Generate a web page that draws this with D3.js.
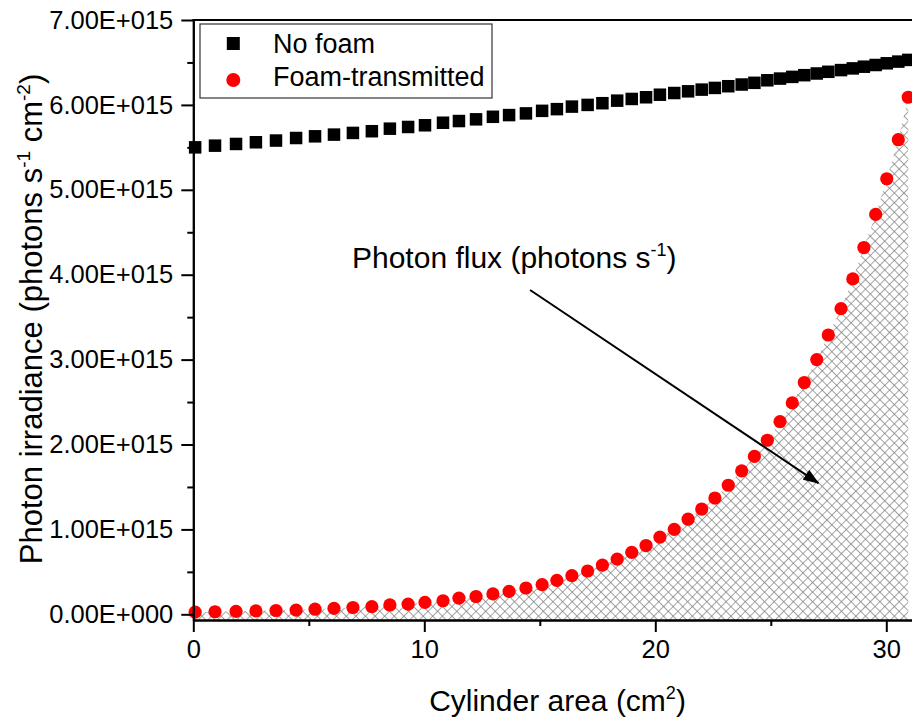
<!DOCTYPE html>
<html>
<head>
<meta charset="utf-8">
<script src="https://cdn.jsdelivr.net/npm/d3@7/dist/d3.min.js"></script>
<style>
  html, body { margin: 0; padding: 0; background: #fff; }
  svg { display: block; }
  text { font-family: "Liberation Sans", Arial, sans-serif; fill: #000; }
</style>
</head>
<body>
<div id="chart"></div>
<script>
// Cylinder area (cm^2) at each measurement position
const cylinderArea = [
  0.08, 0.94, 1.85, 2.71, 3.58, 4.45, 5.27, 6.09, 6.91, 7.73,
  8.51, 9.30, 10.03, 10.81, 11.50, 12.24, 12.97, 13.67, 14.40, 15.10,
  15.74, 16.39, 17.07, 17.71, 18.35, 18.98, 19.60, 20.20, 20.82, 21.42,
  22.01, 22.58, 23.16, 23.74, 24.29, 24.85, 25.40, 25.93, 26.45, 26.99,
  27.49, 28.04, 28.55, 29.03, 29.54, 30.02, 30.52, 30.95
];

// Photon irradiance without foam (photons s^-1 cm^-2)
const noFoam = [
  5.50e15, 5.52e15, 5.54e15, 5.56e15, 5.58e15, 5.61e15, 5.63e15, 5.65e15, 5.67e15, 5.69e15,
  5.72e15, 5.74e15, 5.76e15, 5.79e15, 5.81e15, 5.83e15, 5.86e15, 5.88e15, 5.90e15, 5.93e15,
  5.95e15, 5.98e15, 6.00e15, 6.02e15, 6.05e15, 6.07e15, 6.09e15, 6.12e15, 6.14e15, 6.16e15,
  6.18e15, 6.20e15, 6.22e15, 6.24e15, 6.26e15, 6.29e15, 6.31e15, 6.33e15, 6.35e15, 6.37e15,
  6.39e15, 6.41e15, 6.43e15, 6.45e15, 6.47e15, 6.49e15, 6.51e15, 6.53e15
];

// Photon irradiance transmitted through the foam (photons s^-1 cm^-2)
const foamTransmitted = [
  0.025e15, 0.030e15, 0.035e15, 0.040e15, 0.045e15, 0.050e15, 0.060e15, 0.070e15, 0.080e15, 0.090e15,
  0.11e15, 0.12e15, 0.14e15, 0.16e15, 0.19e15, 0.21e15, 0.24e15, 0.27e15, 0.31e15, 0.35e15,
  0.40e15, 0.455e15, 0.51e15, 0.58e15, 0.65e15, 0.73e15, 0.81e15, 0.91e15, 1.00e15, 1.12e15,
  1.24e15, 1.37e15, 1.52e15, 1.69e15, 1.86e15, 2.05e15, 2.27e15, 2.49e15, 2.73e15, 3.00e15,
  3.29e15, 3.60e15, 3.95e15, 4.32e15, 4.71e15, 5.13e15, 5.59e15, 6.09e15
];

const xTicks = [0, 10, 20, 30];
const xMinorTicks = [5, 15, 25];
const yTicks = [0, 1e15, 2e15, 3e15, 4e15, 5e15, 6e15, 7e15];
const yTickLabels = ["0.00E+000", "1.00E+015", "2.00E+015", "3.00E+015",
                     "4.00E+015", "5.00E+015", "6.00E+015", "7.00E+015"];
const yMinorTicks = [0.5e15, 1.5e15, 2.5e15, 3.5e15, 4.5e15, 5.5e15, 6.5e15];

const seriesNames = ["No foam", "Foam-transmitted"];

// Annotation: label anchor and arrow, in data coordinates
const annotationText = [6.87, 4.08e15];
const annotationArrow = [[14.58, 3.82e15], [27.06, 1.545e15]];

const W = 912, H = 722;
const plotLeft = 193.3, plotTop = 20, plotBottom = 620;
const pxPerUnit = 23.1;
const xMax = 32;

const x = d3.scaleLinear().domain([0, xMax]).range([plotLeft, plotLeft + pxPerUnit * xMax]);
const y = d3.scaleLinear().domain([-0.067e15, 7e15]).range([plotBottom, plotTop]);

const svg = d3.select("#chart").append("svg")
  .attr("width", W).attr("height", H)
  .attr("viewBox", `0 0 ${W} ${H}`);

const defs = svg.append("defs");

// Cross-hatch pattern for the integrated photon flux
const hs = 6.8;
defs.append("pattern")
  .attr("id", "crosshatch")
  .attr("patternUnits", "userSpaceOnUse")
  .attr("width", hs).attr("height", hs)
  .attr("patternTransform", "rotate(45)")
  .append("path")
  .attr("d", `M0,0 H${hs} M0,0 V${hs}`)
  .attr("stroke", "#808080")
  .attr("stroke-width", 1.4)
  .attr("fill", "none");

defs.append("marker")
  .attr("id", "arrowhead")
  .attr("markerUnits", "userSpaceOnUse")
  .attr("viewBox", "0 0 16 12")
  .attr("refX", 15).attr("refY", 6)
  .attr("markerWidth", 16).attr("markerHeight", 12)
  .attr("orient", "auto")
  .append("path")
  .attr("d", "M0,0 L16,6 L0,12 Z")
  .attr("fill", "#000");

const data = cylinderArea.map((a, i) => ({ a, nf: noFoam[i], ft: foamTransmitted[i] }));

// Hatched area under the transmitted irradiance curve
svg.append("path")
  .datum(data)
  .attr("fill", "url(#crosshatch)")
  .attr("d", d3.area()
    .x(d => x(d.a))
    .y0(plotBottom)
    .y1(d => y(d.ft)));

// No foam: black squares
const sq = 12.5;
svg.append("g").selectAll("rect")
  .data(data).join("rect")
  .attr("x", d => x(d.a) - sq / 2)
  .attr("y", d => y(d.nf) - sq / 2)
  .attr("width", sq).attr("height", sq)
  .attr("fill", "#000");

// Foam-transmitted: red circles
svg.append("g").selectAll("circle")
  .data(data).join("circle")
  .attr("cx", d => x(d.a))
  .attr("cy", d => y(d.ft))
  .attr("r", 6.6)
  .attr("fill", "#ff0000");

// Annotation arrow and label
svg.append("line")
  .attr("x1", x(annotationArrow[0][0])).attr("y1", y(annotationArrow[0][1]))
  .attr("x2", x(annotationArrow[1][0])).attr("y2", y(annotationArrow[1][1]))
  .attr("stroke", "#000").attr("stroke-width", 2)
  .attr("marker-end", "url(#arrowhead)");

const ann = svg.append("text")
  .attr("x", x(annotationText[0])).attr("y", y(annotationText[1]))
  .style("font-size", "30px");
ann.append("tspan").text("Photon flux (photons s");
ann.append("tspan").attr("dy", -12).style("font-size", "18px").text("-1");
ann.append("tspan").attr("dy", 12).text(")");

// Axes
const axisStyle = g => {
  g.selectAll("path.domain").attr("stroke", "#000").attr("stroke-width", 2);
  g.selectAll(".tick line").attr("stroke", "#000").attr("stroke-width", 2);
  g.selectAll(".tick text").style("font-size", "25.5px")
    .style("font-family", '"Liberation Sans", Arial, sans-serif').attr("fill", "#000");
};

svg.append("g")
  .attr("transform", `translate(0,${plotBottom})`)
  .call(d3.axisBottom(x).tickValues(xMinorTicks).tickSize(6).tickSizeOuter(0).tickFormat(""))
  .call(axisStyle);
svg.append("g")
  .attr("transform", `translate(0,${plotBottom})`)
  .call(d3.axisBottom(x).tickValues(xTicks).tickSize(12).tickSizeOuter(0).tickPadding(8)
    .tickFormat(d => String(d)))
  .call(axisStyle);

svg.append("g")
  .attr("transform", `translate(${plotLeft},0)`)
  .call(d3.axisLeft(y).tickValues(yMinorTicks).tickSize(6).tickSizeOuter(0).tickFormat(""))
  .call(axisStyle);
svg.append("g")
  .attr("transform", `translate(${plotLeft},0)`)
  .call(d3.axisLeft(y).tickValues(yTicks).tickSize(12).tickSizeOuter(0).tickPadding(8)
    .tickFormat((d, i) => yTickLabels[i]))
  .call(axisStyle);

// Top frame line
svg.append("line")
  .attr("x1", plotLeft - 1).attr("x2", x(xMax))
  .attr("y1", plotTop).attr("y2", plotTop)
  .attr("stroke", "#000").attr("stroke-width", 2);

// Axis titles
const xt = svg.append("text")
  .attr("x", 557.5).attr("y", 711)
  .attr("text-anchor", "middle")
  .style("font-size", "30px");
xt.append("tspan").text("Cylinder area (cm");
xt.append("tspan").attr("dy", -12).style("font-size", "18px").text("2");
xt.append("tspan").attr("dy", 12).text(")");

const yt = svg.append("text")
  .attr("transform", "translate(41.5,319) rotate(-90)")
  .attr("text-anchor", "middle")
  .style("font-size", "31px");
yt.append("tspan").text("Photon irradiance (photons s");
yt.append("tspan").attr("dy", -12).style("font-size", "19px").text("-1");
yt.append("tspan").attr("dy", 12).text(" cm");
yt.append("tspan").attr("dy", -12).style("font-size", "19px").text("-2");
yt.append("tspan").attr("dy", 12).text(")");

// Legend
const legend = svg.append("g");
legend.append("rect")
  .attr("x", 200).attr("y", 24).attr("width", 292).attr("height", 74)
  .attr("fill", "#fff").attr("stroke", "#333").attr("stroke-width", 1.2);
legend.append("rect")
  .attr("x", 233.3 - 6.5).attr("y", 43.5 - 6.5).attr("width", 13).attr("height", 13)
  .attr("fill", "#000");
legend.append("circle")
  .attr("cx", 233.3).attr("cy", 80).attr("r", 7)
  .attr("fill", "#ff0000");
legend.selectAll("text.lg")
  .data(seriesNames).join("text")
  .attr("class", "lg")
  .attr("x", 273).attr("y", (d, i) => 53 + i * 33)
  .style("font-size", "27px")
  .text(d => d);
</script>
</body>
</html>
